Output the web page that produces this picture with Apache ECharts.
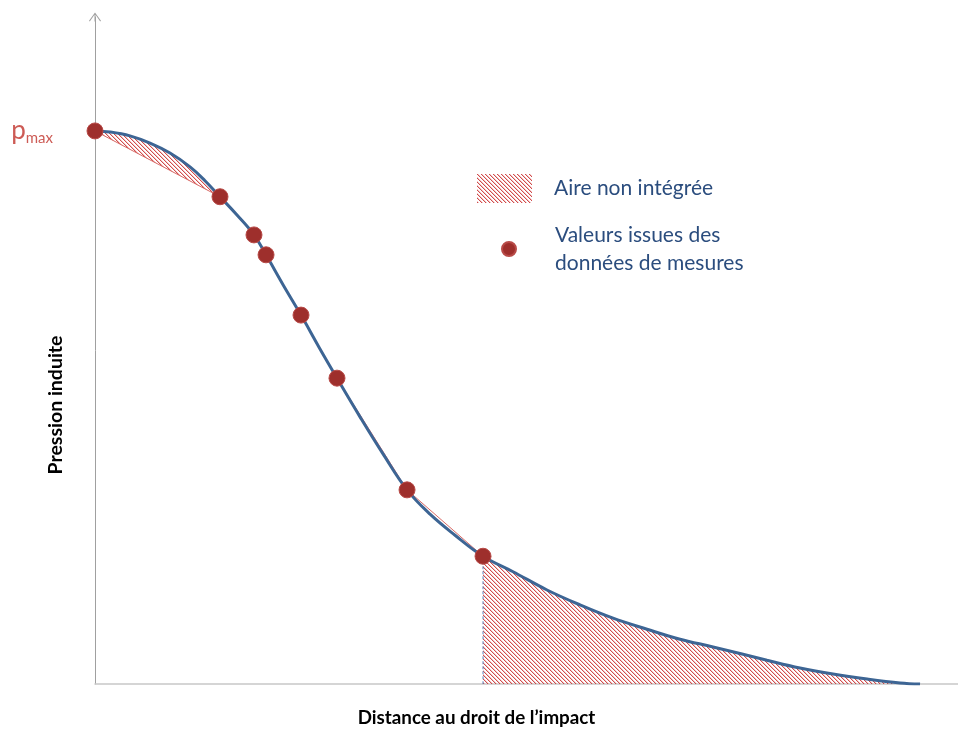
<!DOCTYPE html>
<html>
<head>
<meta charset="utf-8">
<title>Pression induite</title>
<script src="https://cdn.jsdelivr.net/npm/echarts@6/dist/echarts.min.js"></script>
<style>
  html, body { margin: 0; padding: 0; background: #ffffff; }
  #chart { width: 958px; height: 729px; }
</style>
</head>
<body>
<div id="chart"></div>
<script>
// Pressure profile along the distance from the impact point (pressure normalised to pmax = 1)
const curveDistance = [0, 0.182, 0.424, 0.667, 0.909, 1.152, 1.333, 1.515, 1.721, 1.927, 2.073, 2.279,
  2.497, 2.715, 2.933, 3.212, 3.491, 3.782, 4.061, 4.364, 4.703, 5.067, 5.479, 5.879, 6.279, 6.691,
  7.091, 7.491, 8.145, 8.545, 8.945, 9.358, 9.758, 10.0];
const curvePressure = [1.0, 0.998, 0.991, 0.978, 0.960, 0.935, 0.910, 0.881, 0.848, 0.812, 0.776, 0.722,
  0.667, 0.609, 0.553, 0.483, 0.416, 0.351, 0.307, 0.269, 0.231, 0.203, 0.170, 0.143, 0.119, 0.099,
  0.081, 0.067, 0.043, 0.029, 0.018, 0.009, 0.002, 0.0];

// Measured values
const measuredDistance = [0, 1.515, 1.927, 2.073, 2.497, 2.933, 3.782, 4.703];
const measuredPressure = [1.0, 0.881, 0.812, 0.776, 0.667, 0.553, 0.351, 0.231];

// Labels
const pmaxValue = 1.0;
const xAxisTitle = 'Distance au droit de l\u2019impact';
const yAxisTitle = 'Pression induite';
const hatchLabel = 'Aire non intégrée';
const pointsLabel = 'Valeurs issues des\ndonnées de mesures';

const FONT = 'Lato, "Open Sans", sans-serif';
const NAVY = '#2b4d7e';
const CURVE_BLUE = '#3d6594';
const DOT_RED = '#9e2f2c';
const PMAX_RED = '#cd5b55';

// Diagonal red hatching used for the non-integrated areas
function makeHatch() {
  const c = document.createElement('canvas');
  c.width = 4; c.height = 4;
  const g = c.getContext('2d');
  for (let i = 0; i < 4; i++) {
    g.fillStyle = 'rgba(204,58,58,0.9)';
    g.fillRect(i, i, 1, 1);
    g.fillStyle = 'rgba(226,130,130,0.45)';
    g.fillRect((i + 1) % 4, i, 1, 1);
  }
  return { image: c, repeat: 'repeat' };
}
const hatch = makeHatch();

const curveData = curveDistance.map((d, i) => [d, curvePressure[i]]);
const measuredData = measuredDistance.map((d, i) => [d, measuredPressure[i]]);
const lastIdx = measuredDistance.length - 1;

// Open chevron with a short stem, used as the arrow head of the pressure axis
const chevron = 'path://M0,8.2 L6,0 L12,8.2 L11.2,8.9 L6,1.6 L0.8,8.9 Z M5.5,1 L6.5,1 L6.5,9 L5.5,9 Z';

const chart = echarts.init(document.getElementById('chart'), null, { renderer: 'canvas' });

chart.setOption({
  animation: false,
  backgroundColor: '#ffffff',
  textStyle: { fontFamily: FONT },
  grid: { left: 95, right: 0, top: 17, bottom: 45, containLabel: false, outerBoundsMode: 'none' },
  xAxis: {
    type: 'value',
    min: 0,
    max: 10.46,
    axisLine: { show: true, onZero: false, lineStyle: { color: '#c8c8c8', width: 1.5 } },
    axisTick: { show: false },
    axisLabel: { show: false },
    splitLine: { show: false },
    name: xAxisTitle,
    nameLocation: 'middle',
    nameGap: 24,
    nameMoveOverlap: false,
    nameTextStyle: { fontFamily: FONT, fontSize: 18.8, fontWeight: 'bold', color: '#000000', padding: [0, 100, 0, 0] }
  },
  yAxis: {
    type: 'value',
    min: 0,
    max: 1.206,
    interval: 1,
    axisLine: {
      show: true, onZero: false,
      symbol: ['none', chevron], symbolSize: [12, 9],
      lineStyle: { color: '#a0a0a0', width: 1 }
    },
    axisTick: { show: false },
    splitLine: { show: false },
    axisLabel: {
      show: true,
      margin: 42,
      showMinLabel: true,
      showMaxLabel: false,
      formatter: v => (v === pmaxValue ? '{p|p}{s|max}' : ''),
      rich: {
        p: { fontFamily: FONT, fontSize: 26, color: PMAX_RED, lineHeight: 30 },
        s: { fontFamily: FONT, fontSize: 15, color: PMAX_RED, lineHeight: 14, verticalAlign: 'bottom' }
      }
    },
    name: yAxisTitle,
    nameLocation: 'middle',
    nameRotate: 90,
    nameGap: 29,
    nameMoveOverlap: false,
    nameTextStyle: { fontFamily: FONT, fontSize: 19.5, fontWeight: 'bold', color: '#000000', padding: [0, 109, 0, 0] }
  },
  legend: [
    {
      orient: 'vertical',
      left: 477, top: 174,
      padding: 0,
      itemWidth: 55, itemHeight: 29,
      selectedMode: false,
      data: [{ name: hatchLabel, icon: 'rect', itemStyle: { color: hatch, borderWidth: 0 } }],
      textStyle: { fontFamily: FONT, fontSize: 21, color: NAVY, padding: [4, 0, 0, 17] }
    },
    {
      orient: 'vertical',
      left: 501, top: 219,
      padding: 0,
      itemWidth: 14, itemHeight: 14,
      selectedMode: false,
      data: [{ name: pointsLabel, icon: 'circle', itemStyle: { color: DOT_RED } }],
      textStyle: { fontFamily: FONT, fontSize: 21, color: NAVY, lineHeight: 28, padding: [4, 0, 0, 34] }
    }
  ],
  series: [
    {
      // Areas left out of the integration: between curve and first chord, and the tail past the last measurement
      name: hatchLabel,
      type: 'custom',
      coordinateSystem: 'cartesian2d',
      silent: true,
      z: 1,
      itemStyle: { color: hatch },
      data: [measuredData[0], measuredData[lastIdx]],
      renderItem: function (params, api) {
        let pts;
        if (params.dataIndex === 0) {
          const xEnd = measuredDistance[1];
          pts = curveData.filter(p => p[0] <= xEnd).map(p => api.coord(p));
        } else {
          const xStart = measuredDistance[lastIdx];
          const tail = curveData.filter(p => p[0] >= xStart);
          pts = tail.map(p => api.coord(p));
          pts.push(api.coord([tail[tail.length - 1][0], 0]));
          pts.push(api.coord([xStart, 0]));
        }
        return { type: 'polygon', shape: { points: pts }, style: { fill: hatch, stroke: null } };
      }
    },
    {
      // Straight segments joining the measurements
      name: 'chords',
      type: 'line',
      data: measuredData,
      showSymbol: false,
      symbol: 'none',
      smooth: false,
      silent: true,
      z: 2,
      lineStyle: { color: '#d96a66', width: 1 }
    },
    {
      name: 'pressure',
      type: 'line',
      data: curveData,
      showSymbol: false,
      symbol: 'none',
      smooth: 0.4,
      silent: true,
      z: 3,
      lineStyle: { color: CURVE_BLUE, width: 3 }
    },
    {
      // Drop line below the last measurement
      name: 'drop',
      type: 'line',
      data: [measuredData[lastIdx], [measuredDistance[lastIdx], 0]],
      showSymbol: false,
      symbol: 'none',
      silent: true,
      z: 3,
      lineStyle: { color: '#5b82bb', width: 1, type: [3, 2] }
    },
    {
      name: pointsLabel,
      type: 'scatter',
      data: measuredData,
      symbol: 'circle',
      symbolSize: 16,
      silent: true,
      z: 5,
      itemStyle: { color: DOT_RED, borderColor: '#b84a47', borderWidth: 1, opacity: 1 }
    }
  ]
});
</script>
</body>
</html>
